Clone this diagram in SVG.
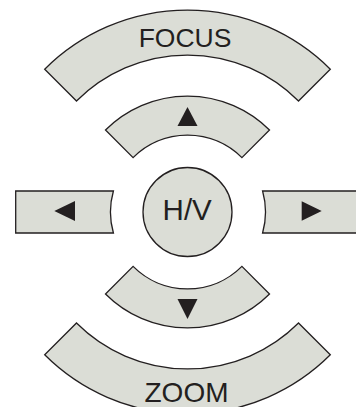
<svg xmlns="http://www.w3.org/2000/svg" width="356" height="407" viewBox="0 0 356 407">
<style>
.btn{fill:#dbddd6;stroke:#231f20;stroke-width:1.3;stroke-linejoin:miter}
.lbl{font-family:"Liberation Sans",Arial,sans-serif;fill:#231f20;text-anchor:middle}
.tri{fill:#231f20;stroke:none}
</style>
<rect width="356" height="407" fill="#ffffff"/>
<g id="focus">
<path class="btn" d="M44.7,69.2 A202,202 0 0 1 330.3,69.2 L298.5,101 A157,157 0 0 0 76.5,101 Z"/>
<text class="lbl" x="185" y="47" font-size="26.5">FOCUS</text>
</g>
<g id="up">
<path class="btn" d="M105.5,130 A116,116 0 0 1 269.5,130 L241.9,157.6 A77,77 0 0 0 133.1,157.6 Z"/>
<polygon class="tri" points="187.5,107 177.5,126 197.5,126"/>
</g>
<g id="left">
<path class="btn" d="M15.7,191 L113.4,191 A77,77 0 0 0 113.4,233 L15.7,233 Z"/>
<polygon class="tri" points="54.3,211 75,201 75,221"/>
</g>
<g id="hv">
<circle class="btn" cx="187.5" cy="212" r="44.5"/>
<text class="lbl" x="187.2" y="220" font-size="29.5">H/V</text>
</g>
<g id="right">
<path class="btn" d="M262.6,191 L360,191 L360,233 L262.6,233 A78,78 0 0 0 262.6,191 Z"/>
<polygon class="tri" points="321.7,211 301.7,201.3 301.7,220.7"/>
</g>
<g id="down">
<path class="btn" d="M105.5,294 A116,116 0 0 0 269.5,294 L241.9,266.4 A77,77 0 0 1 133.1,266.4 Z"/>
<polygon class="tri" points="177.5,299 197.5,299 187.5,319"/>
</g>
<g id="zoom">
<path class="btn" d="M44.7,354.8 A202,202 0 0 0 330.3,354.8 L298.5,323 A157,157 0 0 1 76.5,323 Z"/>
<text class="lbl" x="186.5" y="402" font-size="28">ZOOM</text>
</g>
<g id="connectors"></g>
</svg>
